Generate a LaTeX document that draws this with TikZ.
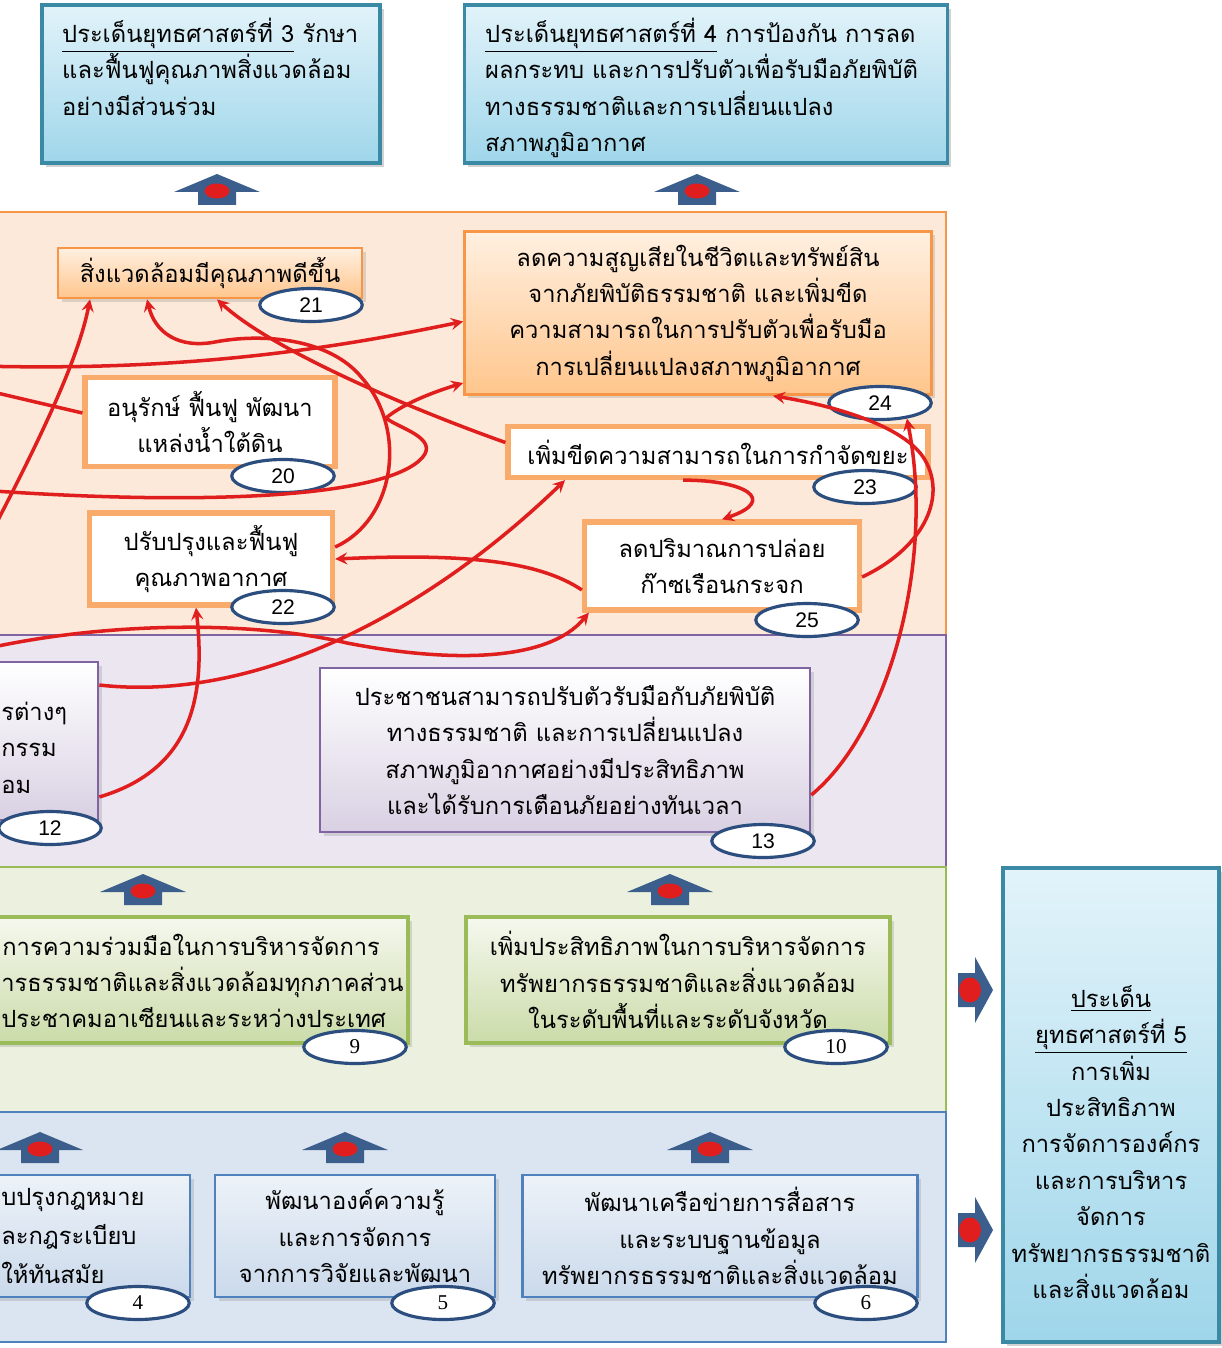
\documentclass[tikz,border=0pt]{standalone}
\usepackage{fontspec}
\newfontfamily\thaifont[Script=Thai]{Loma}
\newfontfamily\numsans{Liberation Sans}
\newfontfamily\numserif{Liberation Serif}
\usepackage{tikz}
\usetikzlibrary{positioning}
\usetikzlibrary{arrows}
\usetikzlibrary{shapes.geometric}
\usetikzlibrary{shadows}

\definecolor{goaltop}{HTML}{E2F3FA}
\definecolor{goalbot}{HTML}{9FD6EA}
\definecolor{goalrim}{HTML}{3A8AA5}
\definecolor{bandorange}{HTML}{FDE9D9}
\definecolor{rimorange}{HTML}{F79646}
\definecolor{bandpurple}{HTML}{ECE6F1}
\definecolor{rimpurple}{HTML}{8064A2}
\definecolor{bandgreen}{HTML}{EBF1DE}
\definecolor{rimgreen}{HTML}{9BBB59}
\definecolor{bandblue}{HTML}{DBE5F1}
\definecolor{rimblue}{HTML}{4F81BD}
\definecolor{linkred}{HTML}{E01E1E}
\definecolor{arrowblue}{HTML}{3B5E8C}
\definecolor{ovalrim}{HTML}{2C4E7E}

\tikzset{
    every node/.style={font=\thaifont\fontsize{13.5}{20.7}\selectfont},
    band/.style={line width=1.5pt}, % the four coloured layers
    goalbox/.style={ % strategy boxes
        rectangle, draw=goalrim, line width=2.2pt,
        top color=goaltop, bottom color=goalbot,
        drop shadow={opacity=0.35}
    },
    resultbox/.style={rectangle, draw=rimorange, line width=1.6pt,
        top color=orange!12, bottom color=orange!45, align=center,
        drop shadow={opacity=0.25}},
    taskbox/.style={rectangle, draw=rimorange!80, line width=3pt,
        fill=white, align=center},
    purplebox/.style={rectangle, draw=rimpurple, line width=1.5pt,
        top color=white, bottom color=rimpurple!30, align=center,
        drop shadow={opacity=0.25}},
    greenbox/.style={rectangle, draw=rimgreen, line width=2.5pt,
        top color=bandgreen!50!white, bottom color=rimgreen!40!bandgreen,
        align=center, drop shadow={opacity=0.25}},
    bluebox/.style={rectangle, draw=rimblue, line width=1.5pt,
        top color=bandblue!50!white, bottom color=rimblue!30,
        align=center, drop shadow={opacity=0.25}},
    cutline/.style={anchor=west, inner xsep=0pt}, % text of boxes cut by the left edge
    oval/.style={ % numbered labels
        ellipse, draw=ovalrim, line width=1.8pt, fill=white,
        minimum width=2.05cm, minimum height=0.66cm, inner sep=0pt,
        font=\numsans\fontsize{12}{14}\selectfont
    },
    ovalserif/.style={oval, font=\numserif\fontsize{12}{14}\selectfont},
    link/.style={ % red connectors
        draw=linkred, line width=2pt,
        ->,>=stealth
    }
}

% blue block arrows with a red spot
\newcommand{\blockup}[2]{%
  \fill[arrowblue] (#1-43,#2+2) -- (#1,#2-16) -- (#1+43,#2+2) -- (#1+19,#2+2)
    -- (#1+19,#2+15) -- (#1-19,#2+15) -- (#1-19,#2+2) -- cycle;
  \fill[linkred] (#1,#2+1) ellipse [x radius=0.25cm, y radius=0.15cm];}
\newcommand{\blockright}[2]{%
  \fill[arrowblue] (#1-17,#2-17) -- (#1,#2-17) -- (#1,#2-33) -- (#1+18,#2)
    -- (#1,#2+33) -- (#1,#2+17) -- (#1-17,#2+17) -- cycle;
  \fill[linkred] (#1-5,#2) ellipse [x radius=0.22cm, y radius=0.25cm];}

\begin{document}
\begin{tikzpicture}[x=0.02cm, y=-0.02cm]
    \useasboundingbox (0,0) rectangle (1222,1348);
    \clip (0,0) rectangle (1222,1348);
    \fill[white] (0,0) rectangle (1222,1348);

    % layers
    \draw[band, fill=bandorange, draw=rimorange] (-10,212) rectangle (946,635);
    \draw[band, fill=bandpurple, draw=rimpurple] (-10,635) rectangle (946,867);
    \draw[band, fill=bandgreen, draw=rimgreen] (-10,867) rectangle (946,1112);
    \draw[band, fill=bandblue, draw=rimblue] (-10,1112) rectangle (946,1342);

    % strategies
    \node[goalbox, minimum width=6.76cm, minimum height=3.16cm] (s3) at (211,84) {};
    \node[anchor=north west, align=left] (s3text) at (56,12)
        {\underline{ประเด็นยุทธศาสตร์ที่ 3} รักษา\\และฟื้นฟูคุณภาพสิ่งแวดล้อม\\อย่างมีส่วนร่วม};
    \node[goalbox, minimum width=9.66cm, minimum height=3.16cm] (s4) at (706,84) {};
    \node[anchor=north west, align=left] (s4text) at (479,12)
        {\underline{ประเด็นยุทธศาสตร์ที่ 4} การป้องกัน การลด\\ผลกระทบ และการปรับตัวเพื่อรับมือภัยพิบัติ\\ทางธรรมชาติและการเปลี่ยนแปลง\\สภาพภูมิอากาศ};
    \node[goalbox, minimum width=4.32cm, minimum height=9.48cm] (s5) at (1111,1105) {};
    \node[align=center] (s5text) at (1111,1142)
        {\underline{ประเด็น}\\\underline{ยุทธศาสตร์ที่ 5}\\การเพิ่ม\\ประสิทธิภาพ\\การจัดการองค์กร\\และการบริหาร\\จัดการ\\ทรัพยากรธรรมชาติ\\และสิ่งแวดล้อม};

    % orange layer
    \node[resultbox, minimum width=6.08cm, minimum height=1.0cm] (r21) at (210,273) {สิ่งแวดล้อมมีคุณภาพดีขึ้น};
    \node[resultbox, minimum width=9.34cm, minimum height=3.26cm] (r24) at (698,313)
        {ลดความสูญเสียในชีวิตและทรัพย์สิน\\จากภัยพิบัติธรรมชาติ และเพิ่มขีด\\ความสามารถในการปรับตัวเพื่อรับมือ\\การเปลี่ยนแปลงสภาพภูมิอากาศ};
    \node[taskbox, minimum width=5.0cm, minimum height=1.78cm] (r20) at (210,422) {อนุรักษ์ ฟื้นฟู พัฒนา\\แหล่งน้ำใต้ดิน};
    \node[taskbox, minimum width=8.4cm, minimum height=1.02cm] (r23) at (718,452) {เพิ่มขีดความสามารถในการกำจัดขยะ};
    \node[taskbox, minimum width=4.86cm, minimum height=1.84cm] (r22) at (211,559) {ปรับปรุงและฟื้นฟู\\คุณภาพอากาศ};
    \node[taskbox, minimum width=5.5cm, minimum height=1.76cm] (r25) at (722,566) {ลดปริมาณการปล่อย\\ก๊าซเรือนกระจก};

    % purple layer
    \node[purplebox, minimum width=2.16cm, minimum height=3.16cm] (r12) at (44,741) {};
    \node[cutline] at (1,713) {รต่างๆ};
    \node[cutline] at (1,750) {กรรม};
    \node[cutline] at (1,787) {อม};
    \node[purplebox, minimum width=9.8cm, minimum height=3.28cm] (r13) at (565,750)
        {ประชาชนสามารถปรับตัวรับมือกับภัยพิบัติ\\ทางธรรมชาติ และการเปลี่ยนแปลง\\สภาพภูมิอากาศอย่างมีประสิทธิภาพ\\และได้รับการเตือนภัยอย่างทันเวลา};

    % green layer
    \node[greenbox, minimum width=8.36cm, minimum height=2.52cm] (r9) at (199,980) {};
    \node[cutline] at (2,945) {การความร่วมมือในการบริหารจัดการ};
    \node[cutline] at (1,982) {ารธรรมชาติและสิ่งแวดล้อมทุกภาคส่วน};
    \node[cutline] at (1,1018) {ประชาคมอาเซียนและระหว่างประเทศ};
    \node[greenbox, minimum width=8.48cm, minimum height=2.52cm] (r10) at (678,980)
        {เพิ่มประสิทธิภาพในการบริหารจัดการ\\ทรัพยากรธรรมชาติและสิ่งแวดล้อม\\ในระดับพื้นที่และระดับจังหวัด};

    % blue layer
    \node[bluebox, minimum width=4.0cm, minimum height=2.44cm] (r4) at (90,1236) {};
    \node[cutline] at (1,1200) {บปรุงกฎหมาย};
    \node[cutline] at (1,1237) {ละกฎระเบียบ};
    \node[cutline] at (1,1273) {ให้ทันสมัย};
    \node[bluebox, minimum width=5.6cm, minimum height=2.44cm] (r5) at (355,1236)
        {พัฒนาองค์ความรู้\\และการจัดการ\\จากการวิจัยและพัฒนา};
    \node[bluebox, minimum width=7.9cm, minimum height=2.44cm] (r6) at (720,1236)
        {พัฒนาเครือข่ายการสื่อสาร\\และระบบฐานข้อมูล\\ทรัพยากรธรรมชาติและสิ่งแวดล้อม};

    % numbers
    \node[oval] (o21) at (311,305) {21};
    \node[oval] (o24) at (880,403) {24};
    \node[oval] (o20) at (283,476) {20};
    \node[oval] (o23) at (865,487) {23};
    \node[oval] (o22) at (283,607) {22};
    \node[oval] (o25) at (807,620) {25};
    \node[oval] (o12) at (50,828) {12};
    \node[oval] (o13) at (763,841) {13};
    \node[ovalserif] (o9) at (355,1047) {9};
    \node[ovalserif] (o10) at (836,1047) {10};
    \node[ovalserif] (o4) at (138,1303) {4};
    \node[ovalserif] (o5) at (443,1303) {5};
    \node[ovalserif] (o6) at (866,1303) {6};

    % block arrows
    \foreach \x/\y in {217/190, 697/190, 143/890, 670/890, 40/1148, 345/1148, 710/1148}
        \blockup{\x}{\y};
    \foreach \y in {990, 1230}
        \blockright{975}{\y};

    % ends outside the cut
    \coordinate (w1) at (-20,366);
    \coordinate (w2) at (-20,389);
    \coordinate (w3) at (-15,545);
    \coordinate (w4) at (-20,490);
    \coordinate (w5) at (-20,650);

    % links
    \draw[link] (w1) .. controls (200,372) and (350,345) .. ([yshift=-0.17cm]r24.west);
    \draw[link] ([yshift=0.18cm]r20.west) -- (w2);
    \draw[link] (w3) .. controls (40,440) and (78,360) .. ([xshift=-2.4cm]r21.south);
    \draw[link] ([yshift=0.24cm]r22.east) .. controls (395,520) and (408,430) .. (362,378)
        .. controls (330,338) and (262,333) .. (215,342)
        .. controls (178,349) and (155,332) .. ([xshift=-1.26cm]r21.south);
    \draw[link] ([yshift=0.19cm]r23.west) .. controls (400,405) and (270,348) .. ([xshift=0.14cm]r21.south);
    \draw[link] (w4) .. controls (200,506) and (385,498) .. (422,458)
        .. controls (440,438) and (398,428) .. (386,418)
        .. controls (405,402) and (440,390) .. ([yshift=-1.4cm]r24.west);
    \draw[link] ([yshift=-0.48cm]r25.west) .. controls (540,562) and (470,553) .. (r22.east);
    \draw[link] (w5) .. controls (100,622) and (250,620) .. (347,643)
        .. controls (450,663) and (548,662) .. ([xshift=0.14cm]r25.south west);
    \draw[link] ([yshift=1.12cm]r12.east) .. controls (250,702) and (420,620) .. ([xshift=-3.06cm]r23.south);
    \draw[link] ([yshift=-1.12cm]r12.east) .. controls (190,770) and (206,700) .. ([xshift=-0.3cm]r22.south);
    \draw[link] ([yshift=-0.9cm]r13.east) .. controls (890,730) and (935,560) .. (o24.-30);
    \draw[link] ([yshift=-0.22cm]r25.east) .. controls (920,550) and (948,500) .. (925,460)
        .. controls (905,425) and (830,405) .. ([xshift=1.5cm]r24.south);
    \draw[link] ([xshift=-0.7cm]r23.south) .. controls (745,480) and (778,500) .. (r25.north);
\end{tikzpicture}
\end{document}
